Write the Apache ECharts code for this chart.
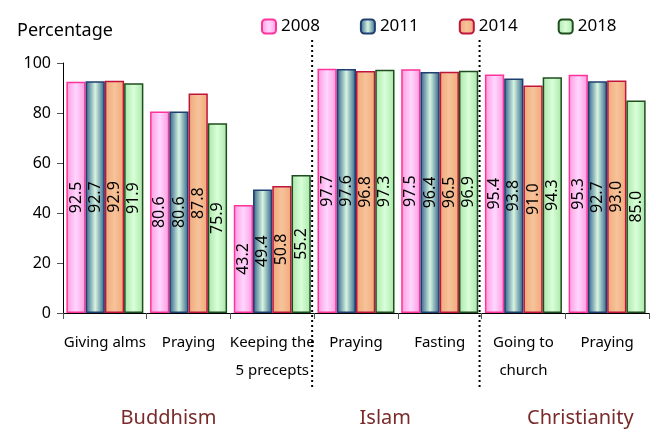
<!DOCTYPE html>
<html>
<head>
<meta charset="utf-8">
<script src="https://cdn.jsdelivr.net/npm/echarts@6/dist/echarts.min.js"></script>
<style>
  html, body { margin: 0; padding: 0; background: #fff; }
  #chart { width: 656px; height: 433px; }
</style>
</head>
<body>
<div id="chart"></div>
<script>
// categories (activities) and religion groups
const categories = ['Giving alms', 'Praying', 'Keeping the\n5 precepts', 'Praying', 'Fasting', 'Going to\nchurch', 'Praying'];
const groupNames = ['Buddhism', 'Islam', 'Christianity'];
// first category of each group (for the dotted separators)
const groupStart = [0, 3, 5];
// where the group name sits, in category units
const groupLabelAt = [0.76, 3.35, 5.68];
const years = ['2008', '2011', '2014', '2018'];
const v2008 = [92.5, 80.6, 43.2, 97.7, 97.5, 95.4, 95.3];
const v2011 = [92.7, 80.6, 49.4, 97.6, 96.4, 93.8, 92.7];
const v2014 = [92.9, 87.8, 50.8, 96.8, 96.5, 91.0, 93.0];
const v2018 = [91.9, 75.9, 55.2, 97.3, 96.9, 94.3, 85.0];
const yTicks = [0, 20, 40, 60, 80, 100];

const FONT = 'Noto Sans';

// bar fill: horizontal gradient edge -> center -> edge
const grad = (edge, mid) => new echarts.graphic.LinearGradient(0, 0, 1, 0, [
  { offset: 0, color: edge },
  { offset: 0.5, color: mid },
  { offset: 1, color: edge }
]);
const styles = [
  { color: grad('#ff99dd', '#ffd6ff'), borderColor: '#ff3399' },
  { color: grad('#2f5f8a', '#d6f5e0'), borderColor: '#1f3f70' },
  { color: grad('#f0a878', '#f7c39a'), borderColor: '#c0143c' },
  { color: grad('#a8e6a8', '#d9ffd9'), borderColor: '#1e4d1e' }
];
const allValues = [v2008, v2011, v2014, v2018];

const chart = echarts.init(document.getElementById('chart'));

const series = years.map((y, i) => ({
  name: y,
  type: 'bar',
  data: allValues[i],
  barGap: '0%',
  barCategoryGap: '8%',
  itemStyle: { color: styles[i].color, borderColor: styles[i].borderColor, borderWidth: 1.5 },
  label: {
    show: true,
    position: 'inside',
    rotate: 90,
    color: '#000',
    fontFamily: FONT,
    fontSize: 16,
    formatter: p => p.value.toFixed(1)
  }
}));

chart.setOption({
  animation: false,
  title: {
    text: 'Percentage',
    left: 12, top: 17,
    textStyle: { fontFamily: FONT, fontSize: 18, fontWeight: 'normal', color: '#000' }
  },
  legend: {
    data: years,
    left: 256, top: 13,
    itemWidth: 14, itemHeight: 14,
    itemGap: 40,
    textStyle: { fontFamily: FONT, fontSize: 17, color: '#000' }
  },
  grid: { left: 63, right: 7, top: 63, bottom: 120 },
  xAxis: {
    type: 'category',
    data: categories,
    axisLine: { lineStyle: { color: '#000', width: 1 } },
    axisTick: { show: true, length: 6, lineStyle: { color: '#555' } },
    axisLabel: { fontFamily: FONT, fontSize: 15, color: '#000', lineHeight: 28, margin: 16, interval: 0 }
  },
  yAxis: {
    type: 'value',
    min: yTicks[0], max: yTicks[yTicks.length - 1], interval: 20,
    axisLine: { show: true, lineStyle: { color: '#000' } },
    axisTick: { show: true, length: 6, lineStyle: { color: '#555' } },
    splitLine: { show: false },
    axisLabel: { fontFamily: FONT, fontSize: 16, color: '#000', margin: 12 }
  },
  series: series
});

// dotted separators between religion groups and group names below
const px = i => {
  const a = Math.floor(i), f = i - a;
  const p0 = chart.convertToPixel({ xAxisIndex: 0 }, a);
  if (f === 0) return p0;
  const p1 = chart.convertToPixel({ xAxisIndex: 0 }, a + 1);
  return p0 + (p1 - p0) * f;
};
const graphics = [];
groupNames.forEach((name, k) => {
  graphics.push({
    type: 'text',
    x: px(groupLabelAt[k]), y: 418,
    style: { text: name, fontFamily: FONT, fontSize: 20, fill: '#7a2a2a', textAlign: 'center', textVerticalAlign: 'middle' }
  });
  if (k > 0) {
    const sx = px(groupStart[k] - 0.5) - 2;
    graphics.push({
      type: 'line',
      shape: { x1: sx, y1: 40, x2: sx, y2: 390 },
      style: { stroke: '#000', lineWidth: 2, lineDash: [2, 3] }
    });
  }
});
chart.setOption({ graphic: graphics });
</script>
</body>
</html>
